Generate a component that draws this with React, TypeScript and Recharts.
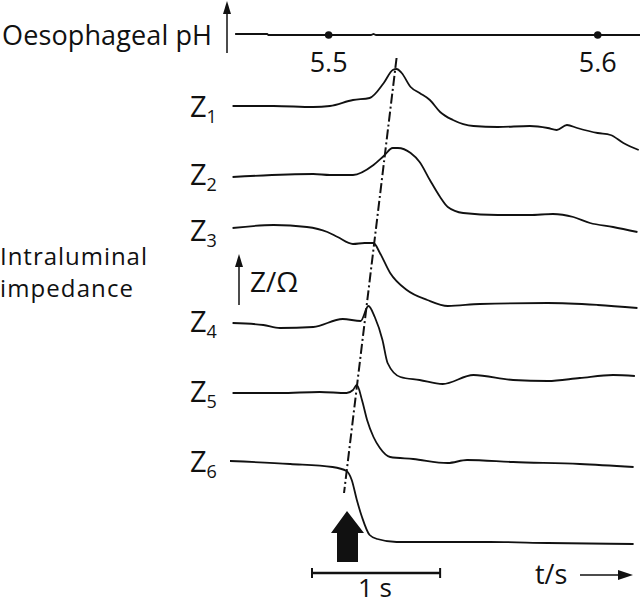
import { ComposedChart, LabelList, Line, ReferenceLine, Scatter, XAxis, YAxis, ZAxis } from 'recharts';

// time in s from start of trace, level in stacked chart units
const z1 = [[0.02, 499], [0.34, 499], [0.65, 498], [0.78, 499], [0.96, 505], [1.09, 507], [1.2, 522], [1.27, 535], [1.3, 536], [1.34, 532], [1.41, 518], [1.48, 512], [1.56, 505], [1.64, 493], [1.74, 485], [1.9, 479], [2.09, 478], [2.34, 479], [2.48, 477], [2.55, 475], [2.63, 480], [2.71, 477], [2.87, 472], [2.97, 470], [3.07, 462], [3.19, 455]];
const z2 = [[0.02, 428], [0.65, 431], [0.78, 430], [0.96, 430], [1.12, 440], [1.2, 449], [1.27, 457], [1.31, 457], [1.41, 452], [1.48, 443], [1.56, 425], [1.64, 408], [1.7, 398], [1.82, 392], [2.09, 390], [2.34, 390], [2.52, 391], [2.68, 388], [2.81, 382], [2.99, 378], [3.18, 373]];
const z3 = [[0.02, 377], [0.34, 380], [0.6, 378], [0.76, 373], [0.84, 368], [0.96, 361], [1.05, 362], [1.12, 362], [1.17, 352], [1.25, 332], [1.38, 315], [1.54, 305], [1.7, 299], [1.95, 301], [2.48, 302], [2.87, 300], [3.18, 297]];
const z4 = [[0.02, 282], [0.26, 280], [0.39, 277], [0.65, 278], [0.88, 286], [1.02, 284], [1.08, 299], [1.13, 288], [1.19, 265], [1.23, 242], [1.33, 228], [1.48, 225], [1.66, 221], [1.9, 230], [2.21, 225], [2.48, 224], [2.73, 227], [2.99, 230], [3.16, 229]];
const z5 = [[0.02, 212], [0.39, 212], [0.7, 213], [0.91, 212], [0.96, 215], [0.99, 220], [1.03, 205], [1.07, 185], [1.12, 168], [1.17, 157], [1.25, 148], [1.43, 146], [1.7, 142], [1.85, 145], [2.21, 143], [2.73, 141], [3.15, 138]];
const z6 = [[0, 144], [0.47, 141], [0.8, 138], [0.91, 134], [0.95, 125], [0.99, 105], [1.03, 88], [1.09, 70], [1.15, 66], [1.3, 63], [2.03, 63], [2.48, 62], [3.15, 61]];
const phTrace = [[0.04, 571], [0.29, 571], [0.3, 570], [1.1, 570], [1.12, 571], [1.14, 570], [3.2, 570]];
const phMarks = [{ t: 0.77, ph: 5.5 }, { t: 2.87, ph: 5.6 }];
const frontLine = [{ x: 1.3, y: 547 }, { x: 0.89, y: 112 }];
const scaleBar = [0.64, 1.64];

const toPts = (arr: number[][]) => arr.map(([t, v]) => ({ t, v }));
const traces = [z1, z2, z3, z4, z5, z6];
const labelY = [117, 185, 241, 332, 402, 472];

const font = '"Open Sans", sans-serif';
const ink = '#111';

export default function App() {
  return (
    <div style={{ position: 'absolute', left: 0, top: 0, width: 640, height: 605, background: '#fff' }}>
      <ComposedChart width={640} height={605} margin={{ top: 0, right: 0, left: 230, bottom: 0 }}>
        <XAxis hide type="number" dataKey="t" domain={[0, 3.2]} />
        <YAxis hide type="number" dataKey="v" domain={[0, 605]} />
        <ZAxis range={[44, 44]} />
        <Line data={toPts(phTrace)} dataKey="v" type="linear" stroke={ink} strokeWidth={1.8} dot={false} isAnimationActive={false} />
        {traces.map((tr, i) => (
          <Line key={i} data={toPts(tr)} dataKey="v" type="monotone" stroke={ink} strokeWidth={1.8} dot={false} isAnimationActive={false} />
        ))}
        <Scatter data={phMarks.map((m) => ({ t: m.t, v: 570, ph: m.ph }))} fill={ink} isAnimationActive={false}>
          <LabelList dataKey="ph" position="bottom" offset={14} fill={ink} fontSize={27} fontFamily={font} formatter={(v: any) => Number(v).toFixed(1)} />
        </Scatter>
        <ReferenceLine segment={frontLine} stroke={ink} strokeWidth={2} strokeDasharray="10 3 2 3" ifOverflow="visible" />
        <ReferenceLine segment={[{ x: scaleBar[0], y: 32 }, { x: scaleBar[1], y: 32 }]} stroke={ink} strokeWidth={2.5} ifOverflow="visible" />
        <ReferenceLine segment={[{ x: scaleBar[0], y: 27 }, { x: scaleBar[0], y: 37 }]} stroke={ink} strokeWidth={2} ifOverflow="visible" />
        <ReferenceLine segment={[{ x: scaleBar[1], y: 27 }, { x: scaleBar[1], y: 37 }]} stroke={ink} strokeWidth={2} ifOverflow="visible" />
      </ComposedChart>
      <svg width={640} height={605} style={{ position: 'absolute', left: 0, top: 0, pointerEvents: 'none' }}>
        <g fontFamily={font} fill={ink}>
          <text x={2} y={45} fontSize={27} textLength={210}>Oesophageal pH</text>
          <text x={0} y={265} fontSize={24} textLength={147}>Intraluminal</text>
          <text x={0} y={297} fontSize={24} textLength={133}>impedance</text>
          <text x={250} y={292} fontSize={28}>Z/Ω</text>
          <text x={375} y={597} fontSize={26} textAnchor="middle">1 s</text>
          <text x={535} y={584} fontSize={27}>t/s</text>
          {labelY.map((y, i) => (
            <text key={i} x={190} y={y} fontSize={29}>
              Z<tspan fontSize={18} dy={6}>{i + 1}</tspan>
            </text>
          ))}
        </g>
        <g stroke={ink} fill={ink}>
          <line x1={227} y1={53} x2={227} y2={12} strokeWidth={1.5} />
          <polygon points="227,1 223,14 231,14" stroke="none" />
          <line x1={239} y1={305} x2={239} y2={266} strokeWidth={1.5} />
          <polygon points="239,254 235,267 243,267" stroke="none" />
          <line x1={580} y1={575} x2={620} y2={575} strokeWidth={1.5} />
          <polygon points="633,575 618,570 618,580" stroke="none" />
          <polygon points="347,511 331,533 337,533 337,562 358,562 358,533 364,533" stroke="none" />
        </g>
      </svg>
    </div>
  );
}
